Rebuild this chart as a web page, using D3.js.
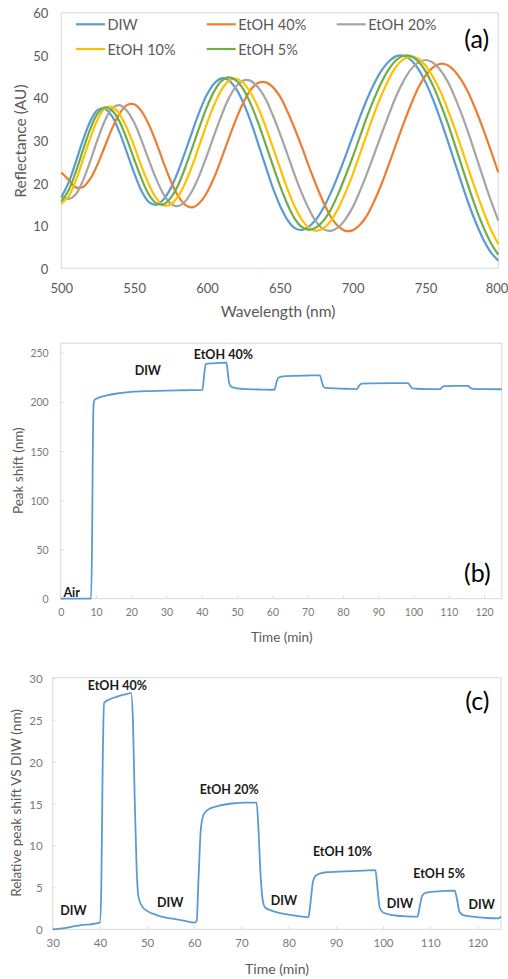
<!DOCTYPE html>
<html>
<head>
<meta charset="utf-8">
<script src="https://cdn.jsdelivr.net/npm/d3@7"></script>
<style>
  html, body { margin: 0; padding: 0; background: #fff; }
  svg { display: block; font-family: Lato, "Open Sans", sans-serif; }
</style>
</head>
<body>
<svg id="fig" width="508" height="979"></svg>
<script>
// ---------- (a) reflectance spectra ----------
const wavelength = [500,505,510,515,520,525,530,535,540,545,550,555,560,565,570,575,580,585,590,595,
  600,605,610,615,620,625,630,635,640,645,650,655,660,665,670,675,680,685,690,695,
  700,705,710,715,720,725,730,735,740,745,750,755,760,765,770,775,780,785,790,795,800];

const reflDIW = [16.7,20.1,25.0,30.2,34.6,37.2,37.4,35.6,31.9,27.2,22.4,18.2,15.6,14.9,16.1,18.7,22.6,27.3,32.2,36.9,
  40.8,43.4,44.6,44.1,42.1,38.8,34.5,29.4,24.2,19.1,14.8,11.5,9.5,9.0,9.8,11.5,14.2,17.7,21.8,26.2,
  30.9,35.5,39.8,43.5,46.5,48.6,49.8,49.9,48.9,46.8,43.7,39.8,35.2,30.2,25.0,19.8,14.8,10.4,6.6,3.7,1.8];

const reflEtOH40 = [22.5,20.8,19.0,19.1,21.1,24.5,28.7,32.9,36.3,38.3,38.5,36.9,33.8,29.7,25.0,20.6,17.1,14.9,14.3,15.4,
  17.8,21.4,25.8,30.5,35.0,38.9,41.9,43.5,43.7,42.6,40.4,37.0,33.0,28.6,23.9,19.5,15.5,12.1,9.9,8.8,
  8.9,10.2,12.5,15.9,19.9,24.5,29.3,34.0,38.4,42.3,45.2,47.1,48.0,47.7,46.3,44.0,40.8,36.8,32.3,27.5,22.5];

const reflEtOH20 = [16.8,16.3,17.4,20.7,25.3,30.3,34.7,37.6,38.3,37.0,34.2,30.1,25.5,21.1,17.5,15.2,14.6,15.7,18.3,22.0,
  26.5,31.3,35.9,39.9,42.7,44.1,44.0,42.5,39.9,36.1,31.7,27.0,22.1,17.7,13.9,10.9,9.2,8.8,9.6,11.5,
  14.3,18.1,22.4,27.0,31.7,36.2,40.5,44.0,46.7,48.3,48.9,48.3,46.6,44.0,40.3,36.0,31.2,26.0,20.8,15.8,11.2];

const reflEtOH10 = [15.2,16.9,20.6,25.6,30.7,35.0,37.6,37.9,36.2,32.9,28.7,24.0,19.8,16.5,14.8,15.0,16.8,20.0,24.2,29.1,
  34.0,38.4,41.9,44.0,44.5,43.5,41.2,37.8,33.5,28.6,23.7,18.9,14.7,11.5,9.5,8.8,9.4,11.1,14.0,17.7,
  22.0,26.8,31.7,36.5,40.8,44.5,47.4,49.1,49.7,49.2,47.6,45.0,41.7,37.5,32.9,27.9,22.8,17.8,13.2,9.0,5.7];

const reflEtOH5 = [15.7,18.3,22.7,27.9,32.8,36.4,37.8,37.0,34.4,30.3,25.6,21.1,17.4,15.3,15.0,16.5,19.4,23.6,28.4,33.3,
  37.9,41.6,44.0,44.8,44.1,42.0,38.6,34.3,29.4,24.4,19.5,15.2,11.8,9.7,9.0,9.6,11.2,13.8,17.4,21.6,
  26.1,30.9,35.7,40.0,43.8,46.8,48.9,49.9,49.8,48.6,46.3,43.0,38.9,34.3,29.2,23.9,18.7,13.8,9.5,5.9,3.2];

const spectraNames = ["DIW", "EtOH 40%", "EtOH 20%", "EtOH 10%", "EtOH 5%"];
const spectraValues = [reflDIW, reflEtOH40, reflEtOH20, reflEtOH10, reflEtOH5];
const spectraColors = ["#5b9bd5", "#ed7d31", "#a5a5a5", "#ffc000", "#70ad47"];
const wavelengthTicks = [500, 550, 600, 650, 700, 750, 800];
const reflectanceTicks = [0, 10, 20, 30, 40, 50, 60];

// ---------- (b) absolute peak shift ----------
const timeB = [0,8.6,8.9,9.1,9.3,9.6,11,13,16,20,25,30,35,40.2,40.6,41.1,43,47,47.3,47.7,48.3,50,53,57,60.6,61.1,61.7,63,66,70,73.5,73.9,74.4,75,78,82,84,84.5,85.3,88,94,98.5,99,99.7,101,105,107.5,108.1,108.8,112,115.5,116,116.8,120,125];
const shiftB = [0,0,60,150,196,202,204.5,206.5,208.5,210.2,211,211.5,211.8,212.2,225,238.5,239.2,239.8,232,220,215.5,213.7,212.9,212.5,212.3,219,224.5,225.8,226.5,226.8,227,222,216,214.2,213.6,213.2,213,216,218.5,218.8,219,219,216.5,213.8,213.3,213,212.9,214.8,216,216.3,216.2,214.5,213.2,212.9,212.8];
const timeTicksB = [0,10,20,30,40,50,60,70,80,90,100,110,120];
const shiftTicksB = [0,50,100,150,200,250];
const labelsB = [
  { text: "Air", t: 3.1, v: 6 },
  { text: "DIW", t: 24.7, v: 231.4 },
  { text: "EtOH 40%", t: 46.1, v: 248.4 }
];

// ---------- (c) peak shift relative to DIW ----------
const timeC = [30,32,34,36,38,40,40.3,40.6,40.9,42,44,46,46.6,47.0,47.4,47.8,48.2,49,50,52,54,56,58,60,60.5,60.9,61.4,62,63,65,68,71,73.2,73.6,74.0,74.5,75,77,80,83,84.2,84.6,85.2,86,88,92,96,98.4,98.8,99.3,100,102,105,107.3,107.7,108.3,109,111,115.2,115.6,116.2,117,119,122,124.5,125];
const shiftC = [0,0.1,0.3,0.5,0.6,0.8,5,20,27.0,27.4,27.8,28.1,28.2,25,15,7,3.8,2.7,2.2,1.7,1.4,1.2,1.0,0.8,1.0,6,12,13.7,14.3,14.7,15.0,15.1,15.1,12,7,3.5,2.6,2.1,1.75,1.5,1.45,3,5.8,6.5,6.8,6.9,7.0,7.05,5,2.6,2.0,1.7,1.55,1.5,2.5,4.0,4.35,4.5,4.6,3.8,2.1,1.7,1.5,1.35,1.3,1.5];
const timeTicksC = [30,40,50,60,70,80,90,100,110,120];
const shiftTicksC = [0,5,10,15,20,25,30];
const labelsC = [
  { text: "DIW", t: 34.4, v: 2.2 },
  { text: "EtOH 40%", t: 43.7, v: 29.05 },
  { text: "DIW", t: 54.9, v: 3.2 },
  { text: "EtOH 20%", t: 67.4, v: 16.7 },
  { text: "DIW", t: 79.0, v: 3.4 },
  { text: "EtOH 10%", t: 91.4, v: 9.3 },
  { text: "DIW", t: 103.6, v: 3.1 },
  { text: "EtOH 5%", t: 111.9, v: 6.6 },
  { text: "DIW", t: 120.9, v: 3.0 }
];

// ---------- drawing helpers ----------
const svg = d3.select("#fig");
const AXIS_GREY = "#d9d9d9";
const TEXT_GREY = "#595959";

function frame(box) {
  svg.append("rect")
    .attr("x", box.x0).attr("y", box.y0)
    .attr("width", box.x1 - box.x0).attr("height", box.y1 - box.y0)
    .attr("fill", "none").attr("stroke", AXIS_GREY).attr("stroke-width", 1);
}

function axes(x, y, box, opt) {
  const gx = svg.append("g")
    .attr("transform", `translate(0,${box.y1})`)
    .call(d3.axisBottom(x).tickValues(opt.xTicks).tickSize(opt.tick).tickPadding(opt.xPad).tickFormat(d3.format("d")));
  const gy = svg.append("g")
    .attr("transform", `translate(${box.x0},0)`)
    .call(d3.axisLeft(y).tickValues(opt.yTicks).tickSize(opt.tick).tickPadding(opt.yPad).tickFormat(d3.format("d")));
  [gx, gy].forEach(g => {
    g.select(".domain").remove();
    g.selectAll(".tick line").attr("stroke", AXIS_GREY);
    g.selectAll(".tick text")
      .attr("fill", opt.tickColor)
      .style("font-size", opt.tickSize + "px")
      .style("font-family", "Lato, sans-serif");
  });
  gx.selectAll(".tick text").attr("dy", null).attr("dominant-baseline", "central");
  gy.selectAll(".tick text").attr("dy", null).attr("dominant-baseline", "central");
  return gx;
}

function axisTitle(text, cx, cy, size, rotate) {
  svg.append("text")
    .attr("transform", `translate(${cx},${cy})` + (rotate ? " rotate(-90)" : ""))
    .attr("text-anchor", "middle").attr("dominant-baseline", "central")
    .attr("fill", TEXT_GREY).style("font-size", size + "px")
    .text(text);
}

function panelTag(text, cx, cy) {
  svg.append("text")
    .attr("x", cx).attr("y", cy)
    .attr("text-anchor", "middle").attr("dominant-baseline", "central")
    .attr("fill", "#000").style("font-size", "25px")
    .text(text);
}

// ---------- panel (a) ----------
{
  const box = { x0: 61.3, x1: 498.3, y0: 12.7, y1: 268.3 };
  const x = d3.scaleLinear().domain([500, 800]).range([box.x0, box.x1]);
  const y = d3.scaleLinear().domain([0, 60]).range([box.y1, box.y0]);
  frame(box);
  const gx = axes(x, y, box, { xTicks: wavelengthTicks, yTicks: reflectanceTicks, tick: 0, xPad: 20, yPad: 13,
                    tickColor: TEXT_GREY, tickSize: 13 });
  // the last wavelength label sits flush with the right edge of the figure
  gx.selectAll(".tick text").filter(d => d === 800).attr("text-anchor", "end").attr("dx", 9.5);

  const line = d3.line().x((d, i) => x(wavelength[i])).y(d => y(d)).curve(d3.curveCatmullRom.alpha(0.5));
  spectraValues.forEach((vals, k) => {
    svg.append("path").datum(vals)
      .attr("d", line).attr("fill", "none")
      .attr("stroke", spectraColors[k]).attr("stroke-width", 2.2)
      .attr("stroke-linejoin", "round");
  });

  // legend, two rows
  const legendPos = [[76, 24.3], [206.7, 24.3], [336.7, 24.3], [76, 49], [206.7, 49]];
  spectraNames.forEach((name, k) => {
    const [lx, ly] = legendPos[k];
    svg.append("line").attr("x1", lx).attr("x2", lx + 29).attr("y1", ly).attr("y2", ly)
      .attr("stroke", spectraColors[k]).attr("stroke-width", 2.2);
    svg.append("text").attr("x", lx + 31.5).attr("y", ly).attr("dominant-baseline", "central")
      .attr("fill", TEXT_GREY).style("font-size", "14.5px").text(name);
  });

  axisTitle("Reflectance (AU)", 20, 141, 15.5, true);
  axisTitle("Wavelength (nm)", 278, 311, 15.5, false);
  panelTag("(a)", 476.7, 38.3);
}

// ---------- panel (b) ----------
{
  const box = { x0: 60.7, x1: 501.7, y0: 343.3, y1: 598.7 };
  const x = d3.scaleLinear().domain([0, 125]).range([box.x0, box.x1]);
  const y = d3.scaleLinear().domain([0, 259.5]).range([box.y1, box.y0]);
  frame(box);
  axes(x, y, box, { xTicks: timeTicksB, yTicks: shiftTicksB, tick: -3, xPad: 13, yPad: 12,
                    tickColor: "#7a7a7a", tickSize: 10.5 });
  const line = d3.line().x((d, i) => x(timeB[i])).y(d => y(d)).curve(d3.curveMonotoneX);
  svg.append("path").datum(shiftB).attr("d", line).attr("fill", "none")
    .attr("stroke", "#5b9bd5").attr("stroke-width", 1.8).attr("stroke-linejoin", "round");
  labelsB.forEach(l => {
    svg.append("text").attr("x", x(l.t)).attr("y", y(l.v))
      .attr("text-anchor", "middle").attr("dominant-baseline", "central")
      .attr("fill", "#1a1a1a").style("font-weight", "bold").style("font-size", "12.5px").text(l.text);
  });
  axisTitle("Peak shift (nm)", 18.3, 470.7, 13.5, true);
  axisTitle("Time (min)", 281.7, 636.7, 13.5, false);
  panelTag("(b)", 477.3, 571.7);
}

// ---------- panel (c) ----------
{
  const box = { x0: 52.7, x1: 501, y0: 677.7, y1: 929.3 };
  const x = d3.scaleLinear().domain([30, 125]).range([box.x0, box.x1]);
  const y = d3.scaleLinear().domain([0, 30]).range([box.y1, box.y0]);
  frame(box);
  axes(x, y, box, { xTicks: timeTicksC, yTicks: shiftTicksC, tick: -3, xPad: 13, yPad: 10,
                    tickColor: "#7a7a7a", tickSize: 11.5 });
  const line = d3.line().x((d, i) => x(timeC[i])).y(d => y(d)).curve(d3.curveMonotoneX);
  svg.append("path").datum(shiftC).attr("d", line).attr("fill", "none")
    .attr("stroke", "#5b9bd5").attr("stroke-width", 1.8).attr("stroke-linejoin", "round");
  labelsC.forEach(l => {
    svg.append("text").attr("x", x(l.t)).attr("y", y(l.v))
      .attr("text-anchor", "middle").attr("dominant-baseline", "central")
      .attr("fill", "#1a1a1a").style("font-weight", "bold").style("font-size", "12.5px").text(l.text);
  });
  axisTitle("Relative peak shift VS DIW (nm)", 16, 803, 13.5, true);
  axisTitle("Time (min)", 277, 968, 14, false);
  panelTag("(c)", 477.3, 700);
}
</script>
</body>
</html>
